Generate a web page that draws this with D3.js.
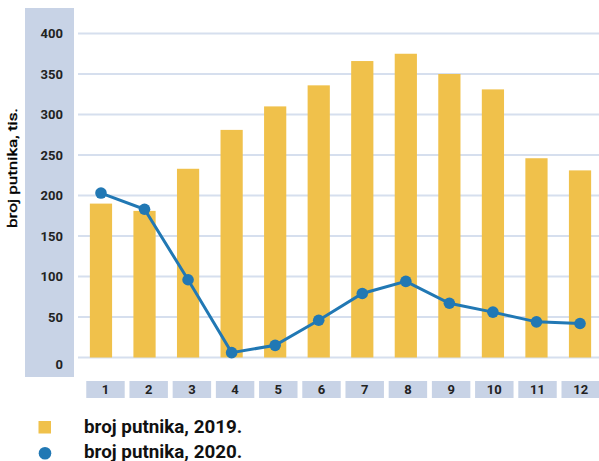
<!DOCTYPE html>
<html>
<head>
<meta charset="utf-8">
<script src="https://cdn.jsdelivr.net/npm/d3@7"></script>
<style>
  body { margin: 0; background: #fff; }
  #chart { width: 599px; height: 461px; }
  text { font-family: Roboto, "Liberation Sans", sans-serif; }
</style>
</head>
<body>
<div id="chart"></div>
<script>
const months = ["1", "2", "3", "4", "5", "6", "7", "8", "9", "10", "11", "12"];
const passengers2019 = [190, 181, 233, 281, 310, 336, 366, 375, 350, 331, 246, 231];
const passengers2020 = [203, 183, 96, 6, 15, 46, 79, 94, 67, 56, 44, 42];
const yTicks = [0, 50, 100, 150, 200, 250, 300, 350, 400];
const legendLabels = ["broj putnika, 2019.", "broj putnika, 2020."];

const barColor = "#f0c14b";
const lineColor = "#2178b4";
const panelColor = "#c8d3e6";
const gridColor = "#d6dfee";

function renderChart() {
  const width = 599, height = 461;
  const svg = d3.select("#chart").append("svg").attr("width", width).attr("height", height);

  const x = d3.scaleBand().domain(months).range([79.2, 601.8]).paddingInner(0.49).paddingOuter(0.245);
  const xBox = d3.scaleBand().domain(months).range([81.5, 604.7]).padding(0.11);
  const y = d3.scaleLinear().domain([0, 400]).range([357.5, 33.5]);

  // left panel behind the value labels
  svg.append("rect")
    .attr("x", 25).attr("y", 8).attr("width", 49).attr("height", 369)
    .attr("fill", panelColor);

  svg.append("g").selectAll("line")
    .data(yTicks)
    .enter().append("line")
    .attr("x1", 78).attr("x2", width)
    .attr("y1", d => y(d)).attr("y2", d => y(d))
    .attr("stroke", gridColor).attr("stroke-width", 2);

  svg.append("g").selectAll("text")
    .data(yTicks)
    .enter().append("text")
    .attr("x", 63)
    .attr("y", d => y(d) + (d === 0 ? 7 : 0))
    .attr("dy", "0.35em")
    .attr("text-anchor", "end")
    .attr("font-size", 13).attr("font-weight", 700).attr("fill", "#222")
    .text(d => d);

  svg.append("text")
    .attr("transform", "translate(16.5,168) rotate(-90)")
    .attr("text-anchor", "middle")
    .attr("font-family", "'Liberation Sans', Arial, sans-serif")
    .attr("font-size", 12.5).attr("fill", "#000")
    .attr("stroke", "#000").attr("stroke-width", 0.35)
    .attr("textLength", 120).attr("lengthAdjust", "spacingAndGlyphs")
    .text("broj putnika, tis.");

  // month boxes
  const boxes = svg.append("g");
  boxes.selectAll("rect")
    .data(months)
    .enter().append("rect")
    .attr("x", d => xBox(d)).attr("y", 381)
    .attr("width", xBox.bandwidth()).attr("height", 17)
    .attr("fill", panelColor);
  boxes.selectAll("text")
    .data(months)
    .enter().append("text")
    .attr("x", d => xBox(d) + xBox.bandwidth() / 2)
    .attr("y", 389.5).attr("dy", "0.35em")
    .attr("text-anchor", "middle")
    .attr("font-size", 13).attr("font-weight", 700).attr("fill", "#222")
    .text(d => d);

  svg.append("g").selectAll("rect")
    .data(months)
    .enter().append("rect")
    .attr("x", d => x(d))
    .attr("y", (d, i) => y(passengers2019[i]))
    .attr("width", x.bandwidth())
    .attr("height", (d, i) => y(0) - y(passengers2019[i]))
    .attr("fill", barColor);

  const cx = d => x(d) + x.bandwidth() / 2;
  const line = d3.line().x(d => cx(d[0])).y(d => y(d[1]));
  const pts = months.map((m, i) => [m, passengers2020[i]]);

  svg.append("path")
    .datum(pts)
    .attr("d", line)
    .attr("fill", "none").attr("stroke", lineColor).attr("stroke-width", 3);

  svg.append("g").selectAll("circle")
    .data(pts)
    .enter().append("circle")
    .attr("cx", d => cx(d[0])).attr("cy", d => y(d[1]))
    .attr("r", 5.8).attr("fill", lineColor);

  // legend
  const legend = svg.append("g");
  legend.append("rect")
    .attr("x", 38.5).attr("y", 421).attr("width", 12.5).attr("height", 12.5)
    .attr("fill", barColor);
  legend.append("circle")
    .attr("cx", 45).attr("cy", 453.3).attr("r", 6.3)
    .attr("fill", lineColor);
  legend.selectAll("text")
    .data(legendLabels)
    .enter().append("text")
    .attr("x", 84).attr("y", (d, i) => 433.3 + i * 25)
    .attr("font-size", 18.8).attr("font-weight", 700).attr("fill", "#111")
    .text(d => d);
}

renderChart();
</script>
</body>
</html>
